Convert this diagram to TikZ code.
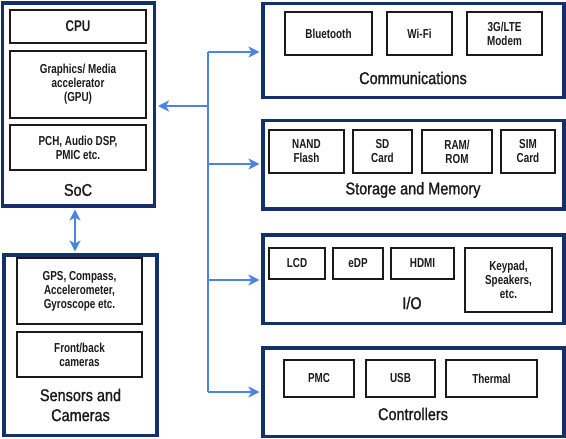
\documentclass[tikz,border=0pt]{standalone}
\usepackage{fontspec}
\setmainfont{Liberation Sans}[FakeStretch=0.85, FakeBold=1.2]
\newfontfamily\ibfam{Liberation Sans}[FakeStretch=0.76, UprightFont=*-Bold]
\usetikzlibrary{arrows.meta}
\definecolor{navy}{HTML}{14306B}
\definecolor{busblue}{HTML}{4A86E0}
\definecolor{ink}{HTML}{1A1A1A}
\begin{document}
\begin{tikzpicture}[x=1pt,y=-1pt,
  outerbox/.style={draw=navy, line width=3.5pt, inner sep=0pt, fill=white},
  ib/.style={draw=ink, line width=1.2pt, align=center, inner sep=0pt, text=ink,
    font=\ibfam\fontsize{13}{14}\selectfont},
  lab/.style={align=center, inner sep=0pt, text=ink, font=\fontsize{17}{20}\selectfont},
  bus/.style={draw=busblue, line width=2pt},
  arr/.style={bus, -{Stealth[length=11pt,width=11pt,inset=3pt]}, shorten >=1.75pt},
  darr/.style={bus, {Stealth[length=11pt,width=11pt,inset=3pt]}-{Stealth[length=11pt,width=11pt,inset=3pt]}, shorten >=1.75pt, shorten <=1.75pt}]
\fill[white] (0,0) rectangle (566,439);
\useasboundingbox (0,0) rectangle (566,439);

% outer boxes
\node[outerbox, minimum width=152pt, minimum height=203pt] (soc) at (78.5,104.5) {};
\node[outerbox, minimum width=153pt, minimum height=180.5pt] (sens) at (80.5,345.25) {};
\node[outerbox, minimum width=301pt, minimum height=94pt] (comm) at (413.5,50.5) {};
\node[outerbox, minimum width=301pt, minimum height=88.5pt] (stor) at (413.5,164.75) {};
\node[outerbox, minimum width=301pt, minimum height=88.5pt] (io) at (413.5,279.25) {};
\node[outerbox, minimum width=301pt, minimum height=88.5pt] (ctrl) at (413.5,392.25) {};

% SoC
\node[ib, minimum width=136pt, minimum height=33pt, font=\ibfam\fontsize{15.5}{17}\selectfont] (cpu) at (78,26.5) {CPU};
\node[ib, minimum width=136pt, minimum height=67pt] (gpu) at (78,84.5) {Graphics/ Media\\accelerator\\(GPU)};
\node[ib, minimum width=136pt, minimum height=45pt] (pch) at (78,147.5) {PCH, Audio DSP,\\PMIC etc.};
\node[lab] (soclab) at (78,190) {SoC};

% Sensors
\node[ib, minimum width=125pt, minimum height=66pt] (gps) at (79.5,291) {GPS, Compass,\\Accelerometer,\\Gyroscope etc.};
\node[ib, minimum width=125pt, minimum height=45pt] (cam) at (79.5,354.5) {Front/back\\cameras};
\node[lab] (senslab) at (80.5,405) {Sensors and\\Cameras};

% Communications
\node[ib, minimum width=87pt, minimum height=43pt] (bt) at (328.5,33.5) {Bluetooth};
\node[ib, minimum width=65pt, minimum height=43pt] (wifi) at (419.5,33.5) {Wi-Fi};
\node[ib, minimum width=75pt, minimum height=43pt] (lte) at (504.5,33.5) {3G/LTE\\Modem};
\node[lab] (commlab) at (413,78) {Communications};

% Storage
\node[ib, minimum width=75pt, minimum height=43pt] (nand) at (306.5,151.5) {NAND\\Flash};
\node[ib, minimum width=59pt, minimum height=43pt] (sd) at (382.5,151.5) {SD\\Card};
\node[ib, minimum width=70pt, minimum height=43pt] (ram) at (457,151.5) {RAM/\\ROM};
\node[ib, minimum width=54pt, minimum height=43pt] (sim) at (528,151.5) {SIM\\Card};
\node[lab] (storlab) at (413,190) {Storage and Memory};

% I/O
\node[ib, minimum width=56pt, minimum height=31pt] (lcd) at (297,263.5) {LCD};
\node[ib, minimum width=50pt, minimum height=31pt] (edp) at (358,263.5) {eDP};
\node[ib, minimum width=63pt, minimum height=31pt] (hdmi) at (422.5,263.5) {HDMI};
\node[ib, minimum width=87pt, minimum height=64pt] (key) at (508.5,280) {Keypad,\\Speakers,\\etc.};
\node[lab] (iolab) at (412,303) {I/O};

% Controllers
\node[ib, minimum width=70pt, minimum height=37pt] (pmc) at (319,378.5) {PMC};
\node[ib, minimum width=69pt, minimum height=37pt] (usb) at (400.5,378.5) {USB};
\node[ib, minimum width=91pt, minimum height=37pt] (therm) at (491.5,378.5) {Thermal};
\node[lab] (ctrllab) at (413,414) {Controllers};

% bus
\coordinate (bcomm) at (208,52);
\coordinate (bsoc) at (208,106);
\coordinate (bstor) at (208,164);
\coordinate (bio) at (208,280);
\coordinate (bctrl) at (208,392);
\draw[bus] (bcomm) -- (bctrl);
\draw[arr] (bcomm) -- (bcomm -| comm.west);
\draw[arr] (bsoc) -- (bsoc -| soc.east);
\draw[arr] (bstor) -- (bstor -| stor.west);
\draw[arr] (bio) -- (bio -| io.west);
\draw[arr] (bctrl) -- (bctrl -| ctrl.west);
\coordinate (da) at (75,230);
\draw[darr] (da |- soc.south) -- (da |- sens.north);
\end{tikzpicture}
\end{document}
